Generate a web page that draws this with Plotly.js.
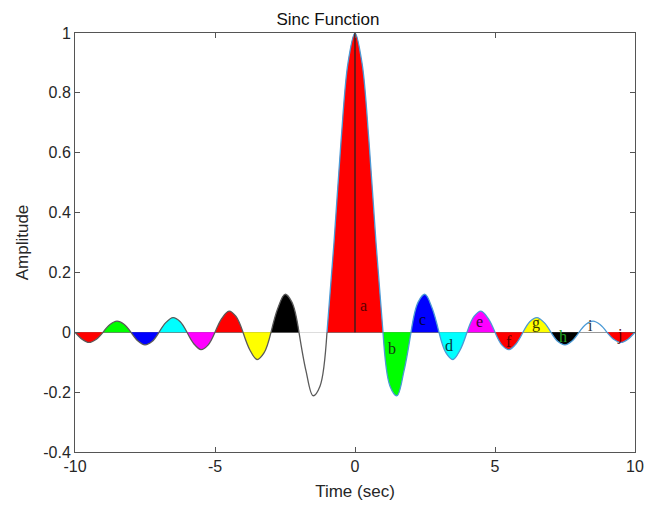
<!DOCTYPE html>
<html>
<head>
<meta charset="utf-8">
<script src="https://cdn.plot.ly/plotly-3.0.1.min.js"></script>
<style>html,body{margin:0;padding:0;background:#fff;}#chart{width:656px;height:507px;}</style>
</head>
<body>
<div id="chart"></div>
<script>
// Time samples (sec), step 0.25 from -10 to 10
const time = [];
for (let i = 0; i <= 80; i++) time.push(-10 + i * 0.25);

// Amplitude at each time sample
const amplitude = [
  0, -0.023, -0.034, -0.024,
  0, 0.026, 0.037, 0.027,
  0, -0.029, -0.042, -0.031,
  0, 0.033, 0.049, 0.036,
  0, -0.039, -0.058, -0.043,
  0, 0.047, 0.071, 0.053,
  0, -0.060, -0.091, -0.069,
  0, 0.082, 0.127, 0.100,
  0, -0.129, -0.212, -0.180,
  0, 0.300, 0.637, 0.900,
  1,
  0.900, 0.637, 0.300, 0,
  -0.180, -0.212, -0.129, 0,
  0.100, 0.127, 0.082, 0,
  -0.069, -0.091, -0.060, 0,
  0.053, 0.071, 0.047, 0,
  -0.043, -0.058, -0.039, 0,
  0.036, 0.049, 0.033, 0,
  -0.031, -0.042, -0.029, 0,
  0.027, 0.037, 0.026, 0,
  -0.024, -0.034, -0.023, 0
];

// Lobe boundaries (between zero crossings) and their fill colours
const lobeStart = [-10, -9, -8, -7, -6, -5, -4, -3, -2, -1, 1, 2, 3, 4, 5, 6, 7, 8, 9];
const lobeEnd   = [-9, -8, -7, -6, -5, -4, -3, -2, -1, 1, 2, 3, 4, 5, 6, 7, 8, 9, 10];
const lobeColor = ['#ff0000', '#00ff00', '#0000ff', '#00ffff', '#ff00ff', '#ff0000', '#ffff00', '#000000', '#ffffff',
                   '#ff0000',
                   '#00ff00', '#0000ff', '#00ffff', '#ff00ff', '#ff0000', '#ffff00', '#000000', '#ffffff', '#ff0000'];

// Lobe labels
const labelText  = ['a', 'b', 'c', 'd', 'e', 'f', 'g', 'h', 'i', 'j'];
const labelX     = [0.3, 1.32, 2.4, 3.36, 4.44, 5.5, 6.46, 7.42, 8.42, 9.46];
const labelY     = [0.088, -0.053, 0.043, -0.045, 0.036, -0.03, 0.03, -0.015, 0.023, -0.01];
const labelColor = ['#5a0000', '#143214', '#000040', '#063a3a', '#3a003a', '#5a0000', '#3a3a00', '#22a022', '#333333', '#5a0000'];

const traces = [];
for (let k = 0; k < lobeStart.length; k++) {
  const xs = [], ys = [];
  for (let i = 0; i < time.length; i++) {
    if (time[i] >= lobeStart[k] - 1e-9 && time[i] <= lobeEnd[k] + 1e-9) {
      xs.push(time[i]); ys.push(amplitude[i]);
    }
  }
  const edge = lobeStart[k] < -1 ? '#5a5a5a' : '#4a9ad6';
  traces.push({
    x: xs, y: ys, type: 'scatter', mode: 'lines',
    line: {shape: 'spline', smoothing: 1, color: edge, width: 1.3},
    fill: 'tozeroy', fillcolor: lobeColor[k],
    hoverinfo: 'skip', showlegend: false
  });
}
// vertical line at t = 0
traces.push({
  x: [0, 0], y: [0, amplitude[40]], type: 'scatter', mode: 'lines',
  line: {color: '#222', width: 1.3}, hoverinfo: 'skip', showlegend: false
});

const annotations = labelText.map((t, i) => ({
  x: labelX[i], y: labelY[i], text: t, showarrow: false,
  xref: 'x', yref: 'y',
  font: {family: 'Liberation Serif, Times New Roman, serif', size: 16, color: labelColor[i]}
}));

const axisFont = {family: 'Liberation Sans, Arial, sans-serif', size: 16, color: '#262626'};

const layout = {
  width: 656, height: 507,
  margin: {l: 75, r: 21, t: 33, b: 55},
  paper_bgcolor: '#fff', plot_bgcolor: '#fff',
  title: {text: 'Sinc Function', x: 0.5, xanchor: 'center', y: 0.975, yanchor: 'top',
          font: {family: 'Liberation Sans, Arial, sans-serif', size: 17, color: '#111'}},
  xaxis: {
    range: [-10, 10], tickvals: [-10, -5, 0, 5, 10], ticktext: ['-10', '-5', '0', '5', '10'],
    ticks: 'inside', ticklen: 5, tickcolor: '#555', mirror: 'ticks',
    showline: true, linecolor: '#555', linewidth: 1, showgrid: false, zeroline: false,
    tickfont: axisFont,
    title: {text: 'Time (sec)', font: {family: 'Liberation Sans, Arial, sans-serif', size: 17, color: '#262626'}, standoff: 10}
  },
  yaxis: {
    range: [-0.4, 1], tickvals: [-0.4, -0.2, 0, 0.2, 0.4, 0.6, 0.8, 1],
    ticktext: ['-0.4', '-0.2', '0', '0.2', '0.4', '0.6', '0.8', '1'],
    ticks: 'inside', ticklen: 5, tickcolor: '#555', mirror: 'ticks',
    showline: true, linecolor: '#555', linewidth: 1, showgrid: false,
    zeroline: true, zerolinecolor: '#777', zerolinewidth: 1.2,
    tickfont: axisFont,
    title: {text: 'Amplitude', font: {family: 'Liberation Sans, Arial, sans-serif', size: 17, color: '#262626'}, standoff: 10}
  },
  annotations: annotations
};

Plotly.newPlot('chart', traces, layout, {displayModeBar: false, staticPlot: true});
</script>
</body>
</html>
